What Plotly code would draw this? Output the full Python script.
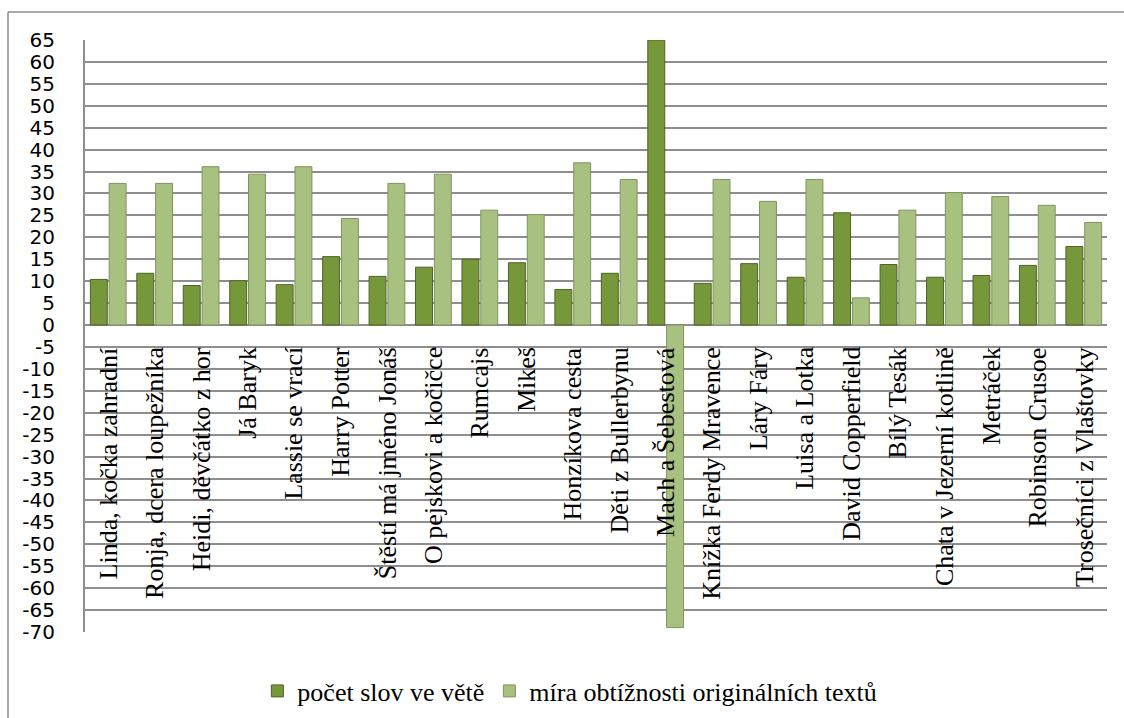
import plotly.graph_objects as go

categories = [
    "Linda, kočka zahradní", "Ronja, dcera loupežníka", "Heidi, děvčátko z hor",
    "Já Baryk", "Lassie se vrací", "Harry Potter", "Štěstí má jméno Jonáš",
    "O pejskovi a kočičce", "Rumcajs", "Mikeš", "Honzíkova cesta",
    "Děti z Bullerbynu", "Mach a Šebestová", "Knížka Ferdy Mravence",
    "Láry Fáry", "Luisa a Lotka", "David Copperfield", "Bílý Tesák",
    "Chata v Jezerní kotlině", "Metráček", "Robinson Crusoe",
    "Trosečníci z Vlaštovky",
]
words_per_sentence = [10.4, 11.8, 9.0, 10.1, 9.2, 15.6, 11.1, 13.2, 15.0, 14.2, 8.1,
                      11.8, 65.0, 9.5, 14.0, 10.9, 25.6, 13.8, 10.9, 11.3, 13.6, 17.9]
difficulty = [32.3, 32.3, 36.1, 34.4, 36.1, 24.3, 32.3, 34.4, 26.2, 25.2, 37.0,
              33.2, -69.0, 33.2, 28.2, 33.2, 6.2, 26.2, 30.2, 29.3, 27.3, 23.4]
series_names = ["počet slov ve větě", "míra obtížnosti originálních textů"]
y_ticks = list(range(-70, 66, 5))

fig = go.Figure()
fig.add_trace(go.Bar(
    x=categories, y=words_per_sentence, name=series_names[0],
    marker=dict(color="#77983A", line=dict(color="#4F6228", width=1)),
))
fig.add_trace(go.Bar(
    x=categories, y=difficulty, name=series_names[1],
    marker=dict(color="#A8C080", line=dict(color="#7E9460", width=1)),
))

for c in categories:
    fig.add_annotation(
        x=c, y=-4.6, xref="x", yref="y", text=c, textangle=-90,
        showarrow=False, xanchor="center", yanchor="top",
        font=dict(family="Liberation Serif", size=26, color="black"),
    )

L, R, T, B = 85, 17, 40, 86
W, H = 1124, 718
pw, ph = W - L - R, H - T - B
bx = (8 - L) / pw
by = (H - 12 - B) / ph
fig.add_shape(type="line", xref="paper", yref="paper", x0=bx, x1=1.05, y0=by, y1=by,
              line=dict(color="#8C8C8C", width=1.5))
fig.add_shape(type="line", xref="paper", yref="paper", x0=bx, x1=bx, y0=by, y1=-0.2,
              line=dict(color="#8C8C8C", width=1.5))

fig.update_layout(
    width=W, height=H,
    margin=dict(l=L, r=R, t=T, b=B),
    paper_bgcolor="white", plot_bgcolor="white",
    font=dict(family="Liberation Serif", color="black"),
    barmode="group", bargap=0.19, bargroupgap=0.1,
    showlegend=True,
    legend=dict(
        orientation="h", xref="container", yref="container",
        x=0.507, xanchor="center", y=1 - 691 / 718, yanchor="middle",
        font=dict(family="Liberation Serif", size=26, color="black"),
        itemwidth=30, tracegroupgap=0,
    ),
    xaxis=dict(showticklabels=False, showgrid=False, zeroline=False,
               showline=False, ticks=""),
    yaxis=dict(
        range=[-70, 65], tickvals=y_ticks, ticktext=[str(v) for v in y_ticks],
        showgrid=True, gridcolor="#8E8E8E", gridwidth=2,
        zeroline=True, zerolinecolor="#8E8E8E", zerolinewidth=2,
        showline=True, linecolor="#8E8E8E", linewidth=2,
        ticks="", ticklabelstandoff=24,
        tickfont=dict(family="DejaVu Sans", size=20, color="black"),
    ),
)

fig.write_html("out.html")
